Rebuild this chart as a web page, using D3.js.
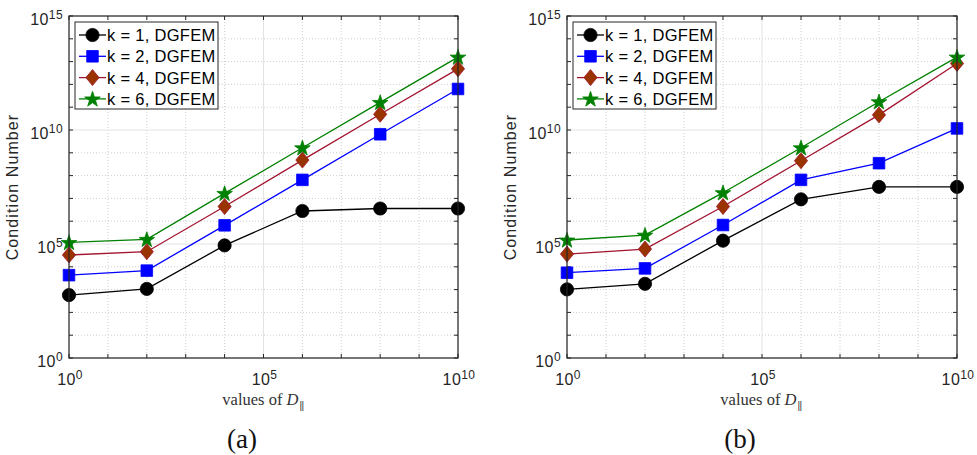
<!DOCTYPE html>
<html>
<head>
<meta charset="utf-8">
<script src="https://cdn.jsdelivr.net/npm/d3@7"></script>
<style>
body { margin: 0; background: #fff; }
</style>
</head>
<body>
<script>
// values of D_parallel
var xVals = [1, 1e2, 1e4, 1e6, 1e8, 1e10];
var seriesNames = ["k = 1, DGFEM", "k = 2, DGFEM", "k = 4, DGFEM", "k = 6, DGFEM"];
var xTickExps = [0, 5, 10];
var yTickExps = [0, 5, 10, 15];

// panel (a): condition numbers
var a_k1 = [575, 1070, 8.7e4, 2.8e6, 3.6e6, 3.6e6];
var a_k2 = [4.3e3, 6.8e3, 6.6e5, 6.5e7, 6.5e9, 6.3e11];
var a_k4 = [3.3e4, 4.6e4, 4.4e6, 4.8e8, 4.9e10, 4.8e12];
var a_k6 = [1.17e5, 1.6e5, 1.66e7, 1.66e9, 1.62e11, 1.58e13];

// panel (b): condition numbers
var b_k1 = [1.02e3, 1.8e3, 1.4e5, 9.1e6, 3.2e7, 3.2e7];
var b_k2 = [5.5e3, 8.5e3, 6.8e5, 6.5e7, 3.5e8, 1.17e10];
var b_k4 = [3.6e4, 6.0e4, 4.4e6, 4.5e8, 4.6e10, 8.3e12];
var b_k6 = [1.5e5, 2.45e5, 1.78e7, 1.66e9, 1.74e11, 1.58e13];

var styles = [
    {line: "#000000", fill: "#000000", shape: "circle"},
    {line: "#0000ff", fill: "#0000ff", shape: "square"},
    {line: "#a2142f", fill: "#993300", shape: "diamond"},
    {line: "#008000", fill: "#008000", shape: "star"}
];

var svg = d3.select("body").append("svg")
    .attr("width", 977)
    .attr("height", 455);

function markerPath(shape) {
    if (shape == "square") return "M-5.8,-5.8H5.8V5.8H-5.8Z";
    if (shape == "diamond") return "M0,-8L6.6,0L0,8L-6.6,0Z";
    // pentagram
    var pts = [];
    for (var i = 0; i < 10; i++) {
        var r = i % 2 == 0 ? 8.2 : 3.2;
        var a = -Math.PI / 2 + i * Math.PI / 5;
        pts.push([r * Math.cos(a), r * Math.sin(a) + 0.6]);
    }
    return "M" + pts.map(p => p[0].toFixed(2) + "," + p[1].toFixed(2)).join("L") + "Z";
}

function drawMarker(g, shape, st, x, y) {
    if (shape == "circle") {
        g.append("circle").attr("cx", x).attr("cy", y).attr("r", 6.6)
            .attr("fill", st.fill).attr("stroke", st.line).attr("stroke-width", 0.8);
    } else {
        g.append("path").attr("d", markerPath(shape))
            .attr("transform", "translate(" + x + "," + y + ")")
            .attr("fill", st.fill).attr("stroke", st.line).attr("stroke-width", 0.8);
    }
}

function powLabel(sel, exp) {
    sel.append("tspan").text("10");
    sel.append("tspan").attr("font-size", "12px").attr("dy", -6).text(exp);
}

function drawPanel(x0, x1, series, tag, tagX, xlabX, ylabX) {
    var x = d3.scaleLog().domain([1, 1e10]).range([x0, x1]);
    var y = d3.scaleLog().domain([1, 1e15]).range([358, 16]);
    var g = svg.append("g");

    var xDecades = d3.range(0, 11).map(e => Math.pow(10, e));
    var yDecades = d3.range(0, 16).map(e => Math.pow(10, e));

    // minor grid (dotted)
    g.selectAll(".gx").data(xDecades.filter((d, i) => i % 5 != 0)).join("line")
        .attr("x1", d => x(d)).attr("x2", d => x(d)).attr("y1", 16).attr("y2", 358)
        .attr("stroke", "#cfcfcf").attr("stroke-dasharray", "1,2");
    g.selectAll(".gy").data(yDecades.filter((d, i) => i % 5 != 0)).join("line")
        .attr("y1", d => y(d)).attr("y2", d => y(d)).attr("x1", x0).attr("x2", x1)
        .attr("stroke", "#cfcfcf").attr("stroke-dasharray", "1,2");
    // major grid
    g.selectAll(".mx").data(xTickExps.map(e => Math.pow(10, e))).join("line")
        .attr("x1", d => x(d)).attr("x2", d => x(d)).attr("y1", 16).attr("y2", 358)
        .attr("stroke", "#e3e3e3");
    g.selectAll(".my").data(yTickExps.map(e => Math.pow(10, e))).join("line")
        .attr("y1", d => y(d)).attr("y2", d => y(d)).attr("x1", x0).attr("x2", x1)
        .attr("stroke", "#e3e3e3");

    // inward ticks on all sides
    var ticks = g.append("g").attr("stroke", "#262626");
    xDecades.forEach(d => {
        ticks.append("line").attr("x1", x(d)).attr("x2", x(d)).attr("y1", 358).attr("y2", 354);
        ticks.append("line").attr("x1", x(d)).attr("x2", x(d)).attr("y1", 16).attr("y2", 20);
    });
    yDecades.forEach(d => {
        ticks.append("line").attr("y1", y(d)).attr("y2", y(d)).attr("x1", x0).attr("x2", x0 + 4);
        ticks.append("line").attr("y1", y(d)).attr("y2", y(d)).attr("x1", x1).attr("x2", x1 - 4);
    });

    // lines and markers
    var line = d3.line().x((d, i) => x(xVals[i])).y(d => y(d));
    series.forEach((vals, si) => {
        var st = styles[si];
        g.append("path").attr("d", line(vals))
            .attr("fill", "none").attr("stroke", st.line).attr("stroke-width", 1.3);
        var mg = g.append("g");
        vals.forEach((v, i) => drawMarker(mg, st.shape, st, x(xVals[i]), y(v)));
    });

    // box
    g.append("rect").attr("x", x0).attr("y", 16).attr("width", x1 - x0).attr("height", 342)
        .attr("fill", "none").attr("stroke", "#262626").attr("stroke-width", 1.2);

    // tick labels
    var font = "Liberation Sans, Arial, sans-serif";
    xTickExps.forEach(e => {
        g.append("text").attr("x", x(Math.pow(10, e)) + 1).attr("y", 385)
            .attr("text-anchor", "middle").attr("font-family", font).attr("font-size", "16px")
            .attr("letter-spacing", "0.4px").attr("fill", "#262626")
            .call(powLabel, e);
    });
    yTickExps.forEach(e => {
        g.append("text").attr("x", x0 - 6).attr("y", y(Math.pow(10, e)) + 9)
            .attr("text-anchor", "end").attr("font-family", font).attr("font-size", "16px")
            .attr("letter-spacing", "0.4px").attr("fill", "#262626")
            .call(powLabel, e);
    });

    // axis labels
    g.append("text").attr("transform", "translate(" + ylabX + ",187) rotate(-90)")
        .attr("text-anchor", "middle").attr("font-family", font).attr("font-size", "16px")
        .attr("letter-spacing", "1.1px").attr("fill", "#262626").text("Condition Number");

    var xl = g.append("text").attr("x", xlabX).attr("y", 405).attr("text-anchor", "middle")
        .attr("font-family", "Liberation Serif, Times New Roman, serif").attr("font-size", "16.5px")
        .attr("fill", "#333");
    xl.append("tspan").text("values of ");
    xl.append("tspan").attr("font-style", "italic").text("D");
    xl.append("tspan").attr("font-family", "Liberation Sans, sans-serif").attr("font-size", "10px")
        .attr("letter-spacing", "-0.5px").attr("dx", 1).attr("dy", 4).text("||");

    g.append("text").attr("x", tagX).attr("y", 448).attr("text-anchor", "middle")
        .attr("font-family", "Liberation Serif, Times New Roman, serif").attr("font-size", "27px")
        .attr("fill", "#111").text(tag);

    // legend
    var lx = x0 + 6, ly = 22;
    var lg = g.append("g");
    lg.append("rect").attr("x", lx).attr("y", ly).attr("width", 143).attr("height", 87)
        .attr("fill", "#fff").attr("stroke", "#262626").attr("stroke-width", 1);
    seriesNames.forEach((name, si) => {
        var st = styles[si];
        var cy = ly + 13 + si * 21.3;
        lg.append("line").attr("x1", lx + 4).attr("x2", lx + 31).attr("y1", cy).attr("y2", cy)
            .attr("stroke", st.line).attr("stroke-width", 1.3);
        drawMarker(lg, st.shape, st, lx + 17.5, cy);
        lg.append("text").attr("x", lx + 32).attr("y", cy + 6)
            .attr("font-family", font).attr("font-size", "16.5px").attr("letter-spacing", "0.3px")
            .attr("fill", "#000").text(name);
    });
}

drawPanel(69, 458, [a_k1, a_k2, a_k4, a_k6], "(a)", 242, 263, 18);
drawPanel(567, 957, [b_k1, b_k2, b_k4, b_k6], "(b)", 740, 761, 516);
</script>
</body>
</html>
